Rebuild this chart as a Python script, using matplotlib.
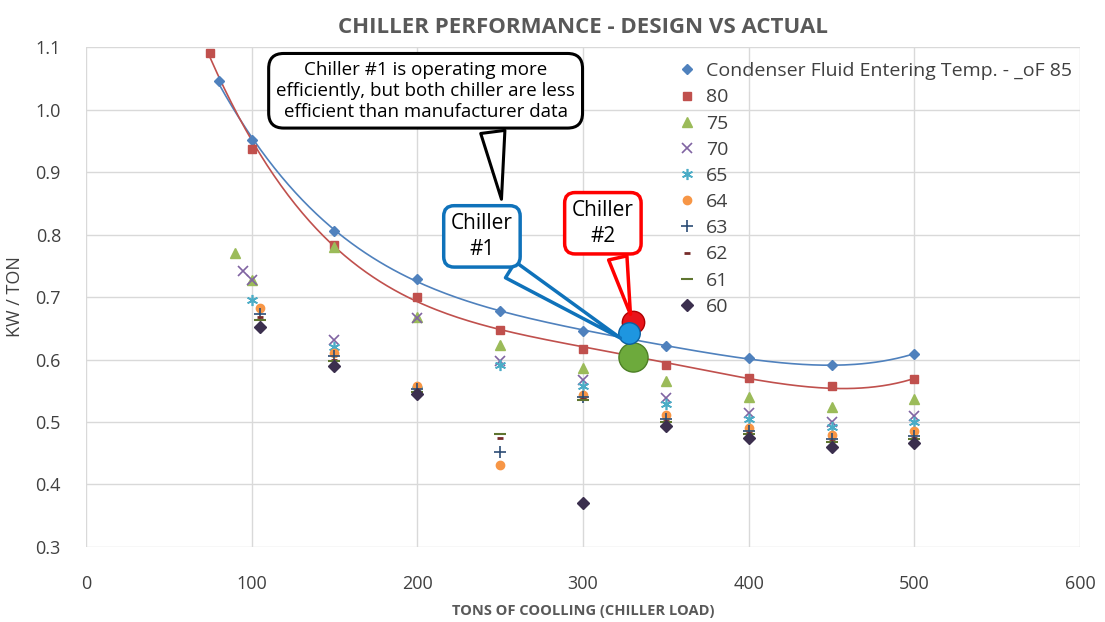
import numpy as np
import matplotlib
matplotlib.use("Agg")
import matplotlib.pyplot as plt

plt.rcParams['font.family'] = ['Open Sans', 'DejaVu Sans']

# manufacturer data, kW/ton by condenser fluid entering temp (F)
x85 = [80, 100, 150, 200, 250, 300, 350, 400, 450, 500]
y85 = [1.045, 0.952, 0.806, 0.729, 0.677, 0.645, 0.622, 0.602, 0.591, 0.609]
x80 = [75, 100, 150, 200, 250, 300, 350, 400, 450, 500]
y80 = [1.091, 0.937, 0.783, 0.700, 0.647, 0.617, 0.592, 0.571, 0.557, 0.568]
x75 = [90, 100, 150, 200, 250, 300, 350, 400, 450, 500]
y75 = [0.770, 0.728, 0.780, 0.668, 0.623, 0.587, 0.565, 0.540, 0.524, 0.536]
x70 = [95, 100, 150, 200, 250, 300, 350, 400, 450, 500]
y70 = [0.742, 0.728, 0.631, 0.666, 0.598, 0.567, 0.538, 0.514, 0.500, 0.510]
x65 = [100, 150, 200, 250, 300, 350, 400, 450, 500]
y65 = [0.695, 0.620, 0.552, 0.592, 0.558, 0.528, 0.505, 0.492, 0.500]
x64 = [105, 150, 200, 250, 300, 350, 400, 450, 500]
y64 = [0.682, 0.611, 0.557, 0.431, 0.543, 0.511, 0.491, 0.479, 0.485]
x63 = [105, 150, 200, 250, 300, 350, 400, 450, 500]
y63 = [0.673, 0.605, 0.552, 0.452, 0.540, 0.505, 0.485, 0.473, 0.478]
x62 = [105, 150, 200, 250, 300, 350, 400, 450, 500]
y62 = [0.668, 0.600, 0.550, 0.475, 0.537, 0.502, 0.482, 0.470, 0.475]
x61 = [105, 150, 200, 250, 300, 350, 400, 450, 500]
y61 = [0.664, 0.597, 0.548, 0.481, 0.535, 0.500, 0.480, 0.468, 0.472]
x60 = [105, 150, 200, 300, 350, 400, 450, 500]
y60 = [0.652, 0.589, 0.545, 0.371, 0.494, 0.474, 0.460, 0.466]

labels = ['Condenser Fluid Entering Temp. - _oF 85', '80', '75', '70', '65',
          '64', '63', '62', '61', '60']

# actual operating points
chiller2 = (330, 0.660)
chiller1 = (328, 0.642)
design_pt = (330, 0.604)

fig = plt.figure(figsize=(11.05, 6.22), dpi=100)
ax = fig.add_axes([0.0778, 0.1206, 0.8996, 0.8038])

series = [
    (x85, y85, dict(marker='D', color='#4F81BD', ms=5)),
    (x80, y80, dict(marker='s', color='#C0504D', ms=6)),
    (x75, y75, dict(marker='^', color='#9BBB59', ms=7)),
    (x70, y70, dict(marker='x', color='#8064A2', ms=7, mew=1.2)),
    (x65, y65, dict(marker=(6, 2, 0), color='#4BACC6', ms=8, mew=1.2)),
    (x64, y64, dict(marker='o', color='#F79646', ms=6)),
    (x63, y63, dict(marker='+', color='#2C4D75', ms=9, mew=1.2)),
    (x62, y62, dict(marker='_', color='#772C2A', ms=5, mew=2)),
    (x61, y61, dict(marker='_', color='#5F7530', ms=8, mew=1.5)),
    (x60, y60, dict(marker='D', color='#3B2F4E', ms=6)),
]
for (xs, ys, st), lab in zip(series, labels):
    ax.plot(xs, ys, ls='none', label=lab, **st)

# polynomial trendlines for 85 and 80
for xs, ys, c in [(x85, y85, '#4F81BD'), (x80, y80, '#C0504D')]:
    p = np.polyfit(xs, ys, 4)
    xx = np.linspace(min(xs), max(xs), 200)
    ax.plot(xx, np.polyval(p, xx), color=c, lw=1.2, zorder=1)

ax.scatter(*chiller2, s=260, color='#E8141B', edgecolor='#B00000', zorder=5)
ax.scatter(*chiller1, s=240, color='#1E96E0', edgecolor='#0B5FA0', zorder=6)
ax.scatter(*design_pt, s=440, color='#6DAA3C', edgecolor='#4C7F25', zorder=5)

ax.set_xlim(0, 600)
ax.set_ylim(0.3, 1.1)
ax.set_xticks(np.arange(0, 601, 100))
ax.set_yticks(np.arange(0.3, 1.11, 0.1))
ax.set_yticklabels(['%.1f' % v for v in np.arange(0.3, 1.11, 0.1)])
ax.grid(color='#D9D9D9', lw=1)
ax.set_axisbelow(True)
for s in ax.spines.values():
    s.set_visible(False)
ax.tick_params(length=0, labelsize=13, labelcolor='#404040')
ax.tick_params(axis='x', pad=20)
ax.tick_params(axis='y', pad=18)

ax.set_title('CHILLER PERFORMANCE - DESIGN VS ACTUAL', fontsize=16,
             fontweight='bold', color='#595959', pad=10)
ax.set_xlabel('TONS OF COOLLING (CHILLER LOAD)', fontsize=10.5,
              fontweight='bold', color='#595959', labelpad=8)
ax.set_ylabel('KW / TON', fontsize=13, color='#404040', labelpad=8)

ax.legend(loc='upper right', frameon=False, fontsize=14, labelspacing=0.42,
          handletextpad=0.4, handlelength=1.2, borderaxespad=0.0,
          bbox_to_anchor=(1.0, 0.985), labelcolor='#404040')

# callouts
ax.annotate('Chiller #1 is operating more\nefficiently, but both chiller are less\nefficient than manufacturer data',
            xy=(251, 0.852), xytext=(205, 1.03), ha='center', va='center',
            fontsize=13.5, linespacing=1.2,
            bbox=dict(boxstyle='round,pad=0.4,rounding_size=0.8', fc='white', ec='black', lw=2.2),
            arrowprops=dict(arrowstyle='wedge,tail_width=1.3,shrink_factor=0.5',
                            fc='white', ec='black', lw=2.2,
                            relpos=(0.72, 0.0)), zorder=7)
ax.annotate('Chiller\n#1', xy=(324, 0.632), xytext=(239, 0.797),
            ha='center', va='center', fontsize=15, linespacing=1.3,
            bbox=dict(boxstyle='round,pad=0.35,rounding_size=0.5', fc='white', ec='#0F72BA', lw=2.5),
            arrowprops=dict(arrowstyle='wedge,tail_width=0.9,shrink_factor=0.5',
                            fc='white', ec='#0F72BA', lw=2.5,
                            relpos=(0.7, 0.0)), zorder=8)
ax.annotate('Chiller\n#2', xy=(329, 0.668), xytext=(312, 0.818),
            ha='center', va='center', fontsize=15, linespacing=1.3,
            bbox=dict(boxstyle='round,pad=0.35,rounding_size=0.5', fc='white', ec='#FF0000', lw=2.5),
            arrowprops=dict(arrowstyle='wedge,tail_width=0.9,shrink_factor=0.5',
                            fc='white', ec='#FF0000', lw=2.5,
                            relpos=(0.7, 0.0)), zorder=8)

fig.savefig('out.png', dpi=100)
